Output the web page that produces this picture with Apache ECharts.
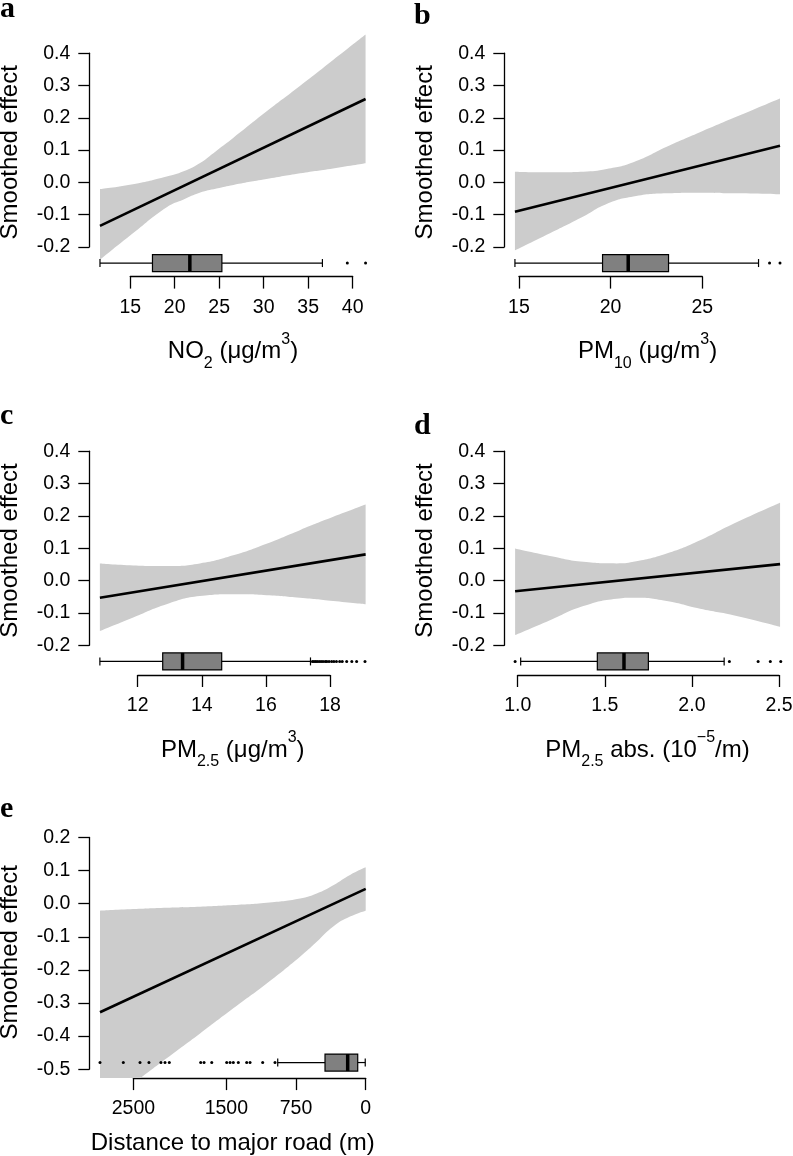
<!DOCTYPE html>
<html><head><meta charset="utf-8">
<script src="https://cdn.jsdelivr.net/npm/echarts@6/dist/echarts.min.js"></script>
<style>html,body{margin:0;padding:0;background:#fff}#c{width:793px;height:1156px}</style>
</head><body><div id="c"></div>
<script>
// ---------------- DATA ----------------
// Panel a: NO2
const bandXA = [11.6, 15.3, 19.1, 21.0, 22.8, 24.7, 26.6, 30.3, 34.1, 37.8, 41.45];
const bandLoA = [-0.240, -0.158, -0.077, -0.053, -0.032, -0.019, -0.008, 0.010, 0.028, 0.043, 0.059];
const bandHiA = [-0.021, -0.006, 0.018, 0.034, 0.059, 0.098, 0.138, 0.219, 0.299, 0.379, 0.458];
const fitXA = [11.6, 41.45];
const fitYA = [-0.135, 0.258];
const boxA = [11.6, 17.5, 21.7, 25.3, 36.6];
const outA = [39.4, 41.45];
const xTicksA = [15, 20, 25, 30, 35, 40];

// Panel b: PM10
const bandXB = [14.78, 16.69, 18.51, 19.78, 21.24, 23.06, 24.87, 26.69, 29.24];
const bandLoB = [-0.211, -0.158, -0.106, -0.067, -0.044, -0.034, -0.032, -0.034, -0.037];
const bandHiB = [0.033, 0.031, 0.033, 0.041, 0.062, 0.110, 0.155, 0.199, 0.260];
const fitXB = [14.78, 29.24];
const fitYB = [-0.091, 0.113];
const boxB = [14.78, 19.56, 20.96, 23.16, 28.07];
const outB = [28.67, 29.24];
const xTicksB = [15, 20, 25];

// Panel c: PM2.5
const bandXC = [10.82, 11.86, 12.90, 13.94, 14.98, 16.02, 17.06, 18.10, 19.11];
const bandLoC = [-0.156, -0.114, -0.073, -0.048, -0.042, -0.045, -0.053, -0.063, -0.073];
const bandHiC = [0.053, 0.047, 0.045, 0.053, 0.078, 0.114, 0.156, 0.197, 0.235];
const fitXC = [10.82, 19.11];
const fitYC = [-0.053, 0.081];
const boxC = [10.82, 12.78, 13.40, 14.62, 17.39];
const outC = [17.45, 17.5, 17.55, 17.6, 17.66, 17.72, 17.78, 17.85, 17.9, 17.97, 18.05, 18.12, 18.2, 18.3, 18.38, 18.52, 18.68, 18.83, 19.09];
const xTicksC = [12, 14, 16, 18];

// Panel d: PM2.5 absorbance
const bandXD = [0.985, 1.185, 1.377, 1.568, 1.664, 1.855, 2.047, 2.238, 2.506];
const bandLoD = [-0.169, -0.123, -0.079, -0.056, -0.053, -0.063, -0.087, -0.107, -0.143];
const bandHiD = [0.099, 0.076, 0.058, 0.053, 0.058, 0.084, 0.125, 0.176, 0.241];
const fitXD = [0.985, 2.506];
const fitYD = [-0.033, 0.051];
const boxD = [1.017, 1.457, 1.61, 1.750, 2.185];
const outD = [0.985, 2.215, 2.38, 2.45, 2.51];
const xTicksD = [1.0, 1.5, 2.0, 2.5];

// Panel e: distance to major road
const bandXE = [2860, 2502, 2142, 1783, 1425, 1066, 707, 527, 349, 169, 0];
const bandLoE = [-0.62, -0.543, -0.467, -0.392, -0.316, -0.241, -0.160, -0.115, -0.069, -0.039, -0.021];
const bandHiE = [-0.021, -0.016, -0.012, -0.009, -0.004, 0.003, 0.016, 0.031, 0.056, 0.087, 0.110];
const fitXE = [2860, 0];
const fitYE = [-0.328, 0.045];
const boxE = [5, 86, 194, 438, 947];
const outE = [976, 1109, 1245, 1281, 1371, 1425, 1460, 1496, 1657, 1740, 1776, 2114, 2160, 2204, 2333, 2429, 2609, 2860];
const xTicksE = [0, 750, 1500, 2500];

const yTicks = [-0.2, -0.1, 0.0, 0.1, 0.2, 0.3, 0.4];
const yTicksE = [-0.5, -0.4, -0.3, -0.2, -0.1, 0.0, 0.1, 0.2];

const panelLetters = ['a', 'b', 'c', 'd', 'e'];
const yTitle = 'Smoothed effect';
const xTitles = [
  '{n|NO}{sub|2}{n| (μg/m}{sup|3}{n|)}',
  '{n|PM}{sub|10}{n| (μg/m}{sup|3}{n|)}',
  '{n|PM}{sub|2.5}{n| (μg/m}{sup|3}{n|)}',
  '{n|PM}{sub|2.5}{n| abs. (10}{sup|−5}{n|/m)}',
  '{n|Distance to major road (m)}'
];

// ---------------- LAYOUT ----------------
const FONT = '"Liberation Sans", Arial, Helvetica, sans-serif';
const panels = [
  {bx: bandXA, lo: bandLoA, hi: bandHiA, fx: fitXA, fy: fitYA, box: boxA, out: outA, xt: xTicksA, yt: yTicks,
   g: {l: 89.3, r: 376.7, t: 28.0, b: 276.6}, xr: [10.4, 42.7], yr: [-0.292, 0.478], boxY: -0.25, fmt: v => String(v),
   letter: {x: 0, y: 18}, nameGap: 55},
  {bx: bandXB, lo: bandLoB, hi: bandHiB, fx: fitXB, fy: fitYB, box: boxB, out: outB, xt: xTicksB, yt: yTicks,
   g: {l: 504.3, r: 790.8, t: 28.0, b: 276.6}, xr: [14.2, 29.83], yr: [-0.292, 0.478], boxY: -0.25, fmt: v => String(v),
   letter: {x: 414, y: 25}, nameGap: 55},
  {bx: bandXC, lo: bandLoC, hi: bandHiC, fx: fitXC, fy: fitYC, box: boxC, out: outC, xt: xTicksC, yt: yTicks,
   g: {l: 89.3, r: 376.2, t: 426.0, b: 675.0}, xr: [10.49, 19.44], yr: [-0.292, 0.478], boxY: -0.25, fmt: v => String(v),
   letter: {x: 0, y: 425}, nameGap: 55},
  {bx: bandXD, lo: bandLoD, hi: bandHiD, fx: fitXD, fy: fitYD, box: boxD, out: outD, xt: xTicksD, yt: yTicks,
   g: {l: 504.3, r: 790.7, t: 426.0, b: 675.0}, xr: [0.923, 2.567], yr: [-0.292, 0.478], boxY: -0.25, fmt: v => v.toFixed(1),
   letter: {x: 414, y: 435}, nameGap: 55},
  {bx: bandXE, lo: bandLoE, hi: bandHiE, fx: fitXE, fy: fitYE, box: boxE, out: outE, xt: xTicksE, yt: yTicksE,
   g: {l: 89.3, r: 376.3, t: 826.6, b: 1078.1}, xr: [-114, 2975], yr: [-0.527, 0.233], boxY: -0.48, inv: true, fmt: v => String(v),
   letter: {x: 0, y: 818}, nameGap: 45}
];

const RICH = {
  n: {fontSize: 24, lineHeight: 40, fontFamily: FONT, color: '#000'},
  sub: {fontSize: 16, lineHeight: 26, verticalAlign: 'bottom', fontFamily: FONT, color: '#000'},
  sup: {fontSize: 16, lineHeight: 16, verticalAlign: 'top', fontFamily: FONT, color: '#000'}
};
const AX = {color: '#000', width: 1.3};
const TICKFONT = 19.5;
const SMOOTH = 0.5;

const option = {animation: false, backgroundColor: '#fff', grid: [], xAxis: [], yAxis: [], series: [], graphic: []};

panels.forEach((P, k) => {
  const D = P.g;
  const W = D.r - D.l, H = D.b - D.t;
  const mapX = v => P.inv ? D.r - (v - P.xr[0]) / (P.xr[1] - P.xr[0]) * W
                          : D.l + (v - P.xr[0]) / (P.xr[1] - P.xr[0]) * W;
  const mapY = v => D.b - (v - P.yr[0]) / (P.yr[1] - P.yr[0]) * H;
  const g0 = option.grid.length;
  const gridBase = {outerBoundsMode: 'none', containLabel: false};
  option.grid.push(Object.assign({left: D.l, top: D.t, width: W, height: H}, gridBase));
  const yMin = P.yt[0], yMax = P.yt[P.yt.length - 1];
  option.grid.push(Object.assign({left: D.l, top: mapY(yMax), width: 10, height: mapY(yMin) - mapY(yMax)}, gridBase));
  const xMin = Math.min(...P.xt), xMax = Math.max(...P.xt);
  const xa = mapX(xMin), xb = mapX(xMax);
  option.grid.push(Object.assign({left: Math.min(xa, xb), width: Math.abs(xb - xa), top: D.b - 10, height: 10}, gridBase));

  // data axes (hidden lines; carry the titles)
  const xi = option.xAxis.length, yi = option.yAxis.length;
  option.xAxis.push({gridIndex: g0, type: 'value', min: P.xr[0], max: P.xr[1], inverse: !!P.inv,
    axisLine: {show: false}, axisTick: {show: false}, axisLabel: {show: false}, splitLine: {show: false},
    name: xTitles[k], nameLocation: 'middle', nameGap: P.nameGap, nameTextStyle: {rich: RICH, fontSize: 24, fontFamily: FONT, color: '#000'}});
  option.yAxis.push({gridIndex: g0, type: 'value', min: P.yr[0], max: P.yr[1],
    axisLine: {show: false}, axisTick: {show: false}, axisLabel: {show: false}, splitLine: {show: false},
    name: yTitle, nameLocation: 'middle', nameGap: 67, nameTextStyle: {fontSize: 24, fontFamily: FONT, color: '#000'}});

  // y display axis
  option.xAxis.push({gridIndex: g0 + 1, type: 'value', min: 0, max: 1, show: false});
  option.yAxis.push({gridIndex: g0 + 1, type: 'value', min: yMin, max: yMax, interval: 0.1, position: 'left',
    axisLine: {show: true, onZero: false, lineStyle: AX},
    axisTick: {show: true, length: 11, lineStyle: AX, customValues: P.yt},
    axisLabel: {show: true, margin: 19, fontSize: TICKFONT, fontFamily: FONT, color: '#000',
      customValues: P.yt, formatter: v => (Math.abs(v) < 1e-9 ? 0 : v).toFixed(1)},
    splitLine: {show: false}});

  // x display axis
  option.xAxis.push({gridIndex: g0 + 2, type: 'value', min: xMin, max: xMax, inverse: !!P.inv, position: 'bottom',
    interval: P.xt.length > 1 ? Math.abs(P.xt[1] - P.xt[0]) : undefined,
    axisLine: {show: true, onZero: false, lineStyle: AX},
    axisTick: {show: true, length: 12, lineStyle: AX, customValues: P.xt},
    axisLabel: {show: true, margin: 21, fontSize: TICKFONT, fontFamily: FONT, color: '#000',
      customValues: P.xt, formatter: P.fmt, showMinLabel: true, showMaxLabel: true},
    splitLine: {show: false}});
  option.yAxis.push({gridIndex: g0 + 2, type: 'value', min: 0, max: 1, show: false});

  // confidence band: lower bound + width stacked on the y dimension
  // (data stored as [y, x] with encode so that the stacked dimension is y)
  option.series.push({type: 'line', xAxisIndex: xi, yAxisIndex: yi, stack: 'band' + k, stackStrategy: 'all', smooth: SMOOTH,
    symbol: 'none', silent: true, z: 1, lineStyle: {opacity: 0, width: 0}, encode: {x: 1, y: 0},
    data: P.bx.map((x, i) => [P.lo[i], x])});
  option.series.push({type: 'line', xAxisIndex: xi, yAxisIndex: yi, stack: 'band' + k, stackStrategy: 'all', smooth: SMOOTH,
    symbol: 'none', silent: true, z: 1, lineStyle: {opacity: 0, width: 0}, encode: {x: 1, y: 0},
    areaStyle: {color: '#cccccc', opacity: 1},
    data: P.bx.map((x, i) => [P.hi[i] - P.lo[i], x])});
  // fitted line
  option.series.push({type: 'line', xAxisIndex: xi, yAxisIndex: yi, symbol: 'none', silent: true, z: 3,
    lineStyle: {color: '#000', width: 2.6}, data: P.fx.map((x, i) => [x, P.fy[i]])});
  // boxplot of exposure
  option.series.push({type: 'custom', xAxisIndex: xi, yAxisIndex: yi, silent: true, clip: false, z: 4,
    data: [P.box],
    renderItem: (params, api) => {
      const p = [0, 1, 2, 3, 4].map(i => api.coord([api.value(i), P.boxY]));
      const cy = p[0][1], h = 17, cap = 8;
      const ls = {stroke: '#000', lineWidth: 1.2};
      return {type: 'group', children: [
        {type: 'line', shape: {x1: p[0][0], y1: cy, x2: p[1][0], y2: cy}, style: ls},
        {type: 'line', shape: {x1: p[3][0], y1: cy, x2: p[4][0], y2: cy}, style: ls},
        {type: 'line', shape: {x1: p[0][0], y1: cy - cap / 2, x2: p[0][0], y2: cy + cap / 2}, style: ls},
        {type: 'line', shape: {x1: p[4][0], y1: cy - cap / 2, x2: p[4][0], y2: cy + cap / 2}, style: ls},
        {type: 'rect', shape: {x: Math.min(p[1][0], p[3][0]), y: cy - h / 2, width: Math.abs(p[3][0] - p[1][0]), height: h},
          style: {fill: '#808080', stroke: '#000', lineWidth: 1.2}},
        {type: 'line', shape: {x1: p[2][0], y1: cy - h / 2, x2: p[2][0], y2: cy + h / 2}, style: {stroke: '#000', lineWidth: 3.5}}
      ]};
    }});
  // outliers
  option.series.push({type: 'scatter', xAxisIndex: xi, yAxisIndex: yi, silent: true, clip: false, z: 5,
    symbol: 'circle', symbolSize: 3, itemStyle: {color: '#000', opacity: 1},
    data: P.out.map(v => [v, P.boxY])});

  // panel letter
  option.graphic.push({type: 'text', x: P.letter.x, y: P.letter.y - 9.2, silent: true,
    style: {text: panelLetters[k], fill: '#000', font: 'bold 30px "Liberation Serif", "Times New Roman", serif',
      verticalAlign: 'middle', align: 'left'}});
});

const chart = echarts.init(document.getElementById('c'), null, {renderer: 'canvas'});
chart.setOption(option);
</script></body></html>
